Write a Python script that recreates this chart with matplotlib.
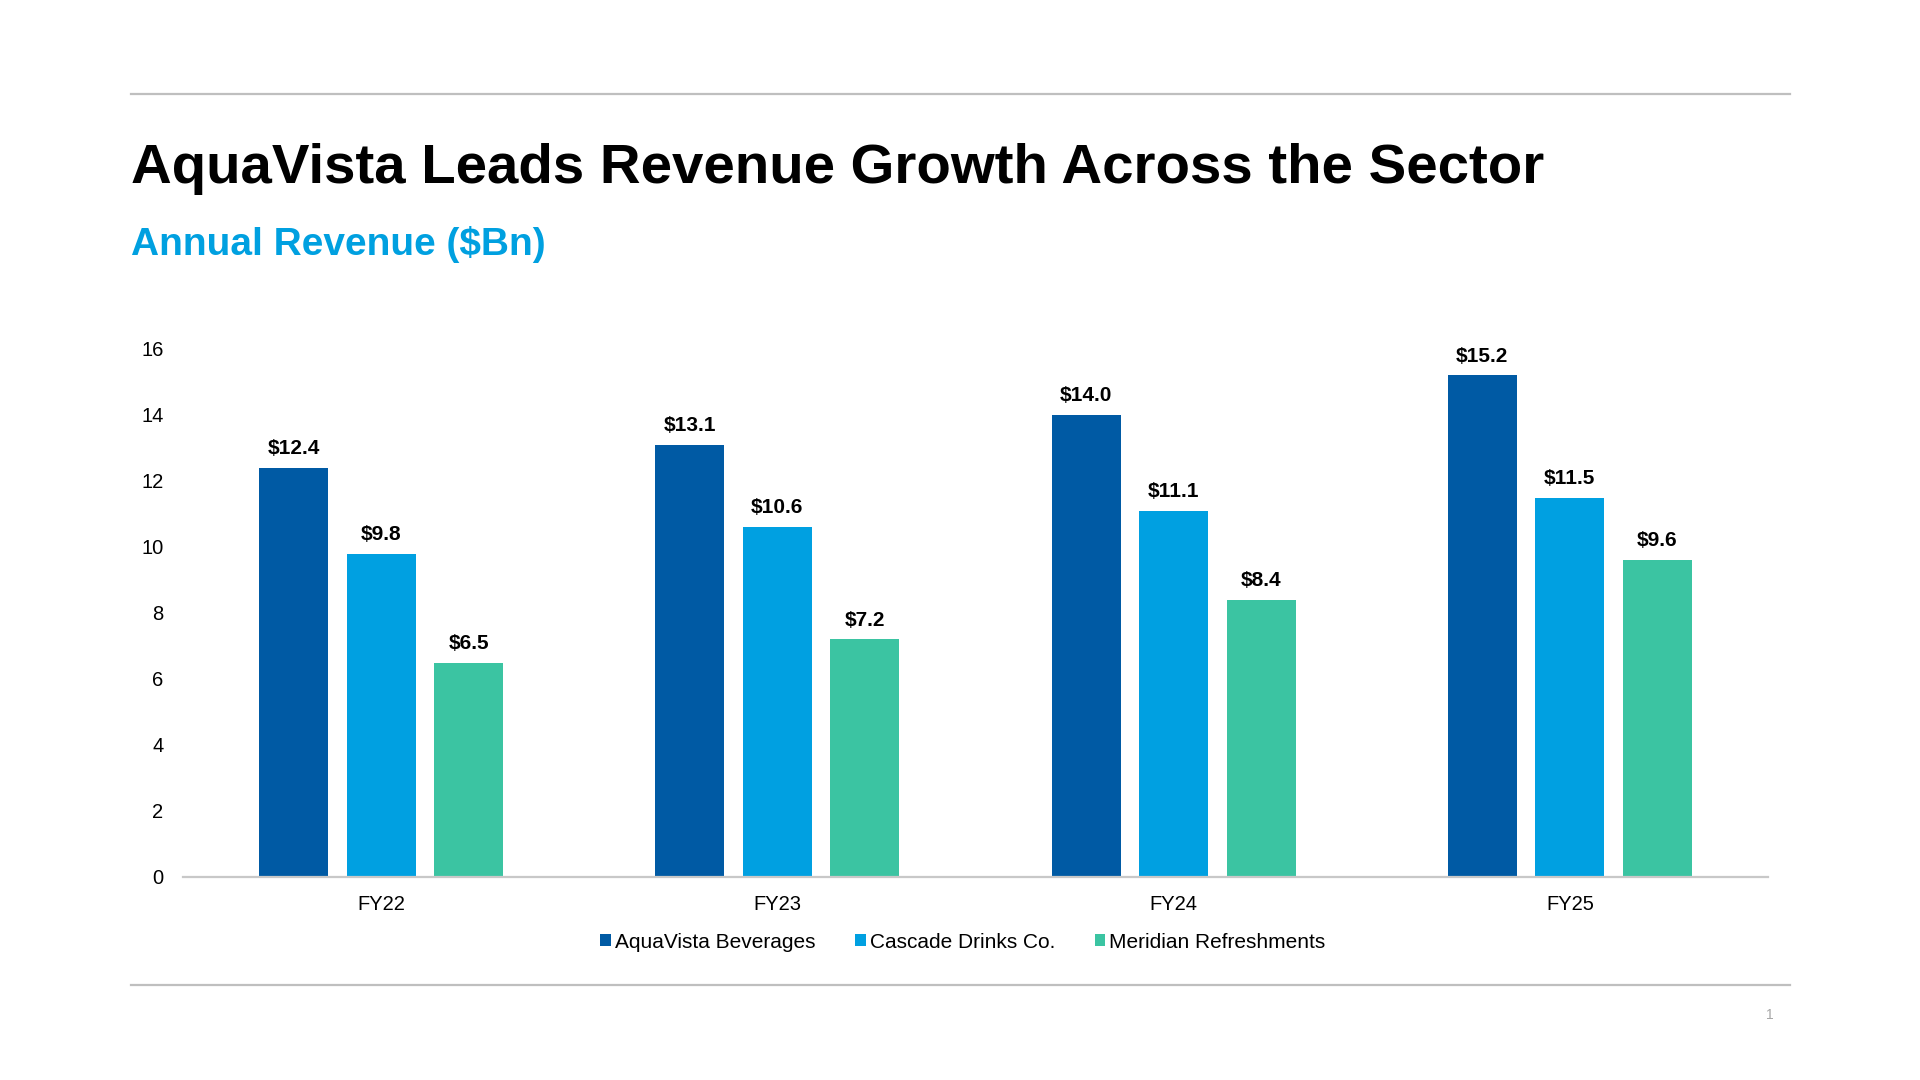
import matplotlib.pyplot as plt
import numpy as np
from matplotlib.lines import Line2D

plt.rcParams['font.family'] = ['Liberation Sans', 'DejaVu Sans']

# data
years = ['FY22', 'FY23', 'FY24', 'FY25']
aquavista = [12.4, 13.1, 14.0, 15.2]
cascade = [9.8, 10.6, 11.1, 11.5]
meridian = [6.5, 7.2, 8.4, 9.6]
series_names = ['AquaVista Beverages', 'Cascade Drinks Co.', 'Meridian Refreshments']
colors = ['#005AA4', '#00A0E1', '#3BC4A2']
y_ticks = [0, 2, 4, 6, 8, 10, 12, 14, 16]

fig = plt.figure(figsize=(19.2, 10.8), dpi=100)

# header / footer rules
fig.add_artist(Line2D([131 / 1920, 1790 / 1920], [1 - 94 / 1080, 1 - 94 / 1080],
                      color='#BFBFBF', lw=1.6))
fig.add_artist(Line2D([131 / 1920, 1790 / 1920], [1 - 985 / 1080, 1 - 985 / 1080],
                      color='#BFBFBF', lw=1.6))

fig.text(131 / 1920, 1 - 183 / 1080, 'AquaVista Leads Revenue Growth Across the Sector',
         fontsize=40.6, fontweight='bold', color='black', ha='left', va='baseline')
fig.text(131 / 1920, 1 - 255 / 1080, 'Annual Revenue ($Bn)',
         fontsize=28, fontweight='bold', color='#00A0E0', ha='left', va='baseline')
fig.text(1770 / 1920, 1 - 1015 / 1080, '1', fontsize=10, color='#A6A6A6',
         ha='center', va='center')

ax = fig.add_axes([183 / 1920, 1 - 877 / 1080, (1768 - 183) / 1920, (877 - 349) / 1080])

x = np.arange(len(years))
width = 0.174
step = 0.221
all_series = [aquavista, cascade, meridian]
for i, (vals, name, col) in enumerate(zip(all_series, series_names, colors)):
    bars = ax.bar(x + (i - 1) * step, vals, width, color=col, label=name, zorder=2)
    for b, v in zip(bars, vals):
        ax.annotate(f'${v:.1f}', (b.get_x() + b.get_width() / 2, v),
                    xytext=(0, 7), textcoords='offset points',
                    ha='center', va='bottom', fontsize=15, fontweight='bold')

ax.set_xlim(-0.5, len(years) - 0.5)
ax.set_ylim(0, 16)
ax.set_yticks(y_ticks)
ax.set_xticks(x)
ax.set_xticklabels(years)
ax.tick_params(axis='both', length=0, labelsize=14.5, colors='black')
ax.tick_params(axis='y', pad=14)
ax.tick_params(axis='x', pad=13)
for s in ['top', 'right', 'left']:
    ax.spines[s].set_visible(False)
ax.spines['bottom'].set_color('#C8C8C8')
ax.spines['bottom'].set_linewidth(1.6)

fig.legend(loc='center', bbox_to_anchor=(963 / 1920, 1 - 942 / 1080), ncol=3,
           frameon=False, fontsize=15, handlelength=0.5, handleheight=0.5,
           handletextpad=0.2, columnspacing=1.9)

fig.savefig('out.png', dpi=100, facecolor='white')
